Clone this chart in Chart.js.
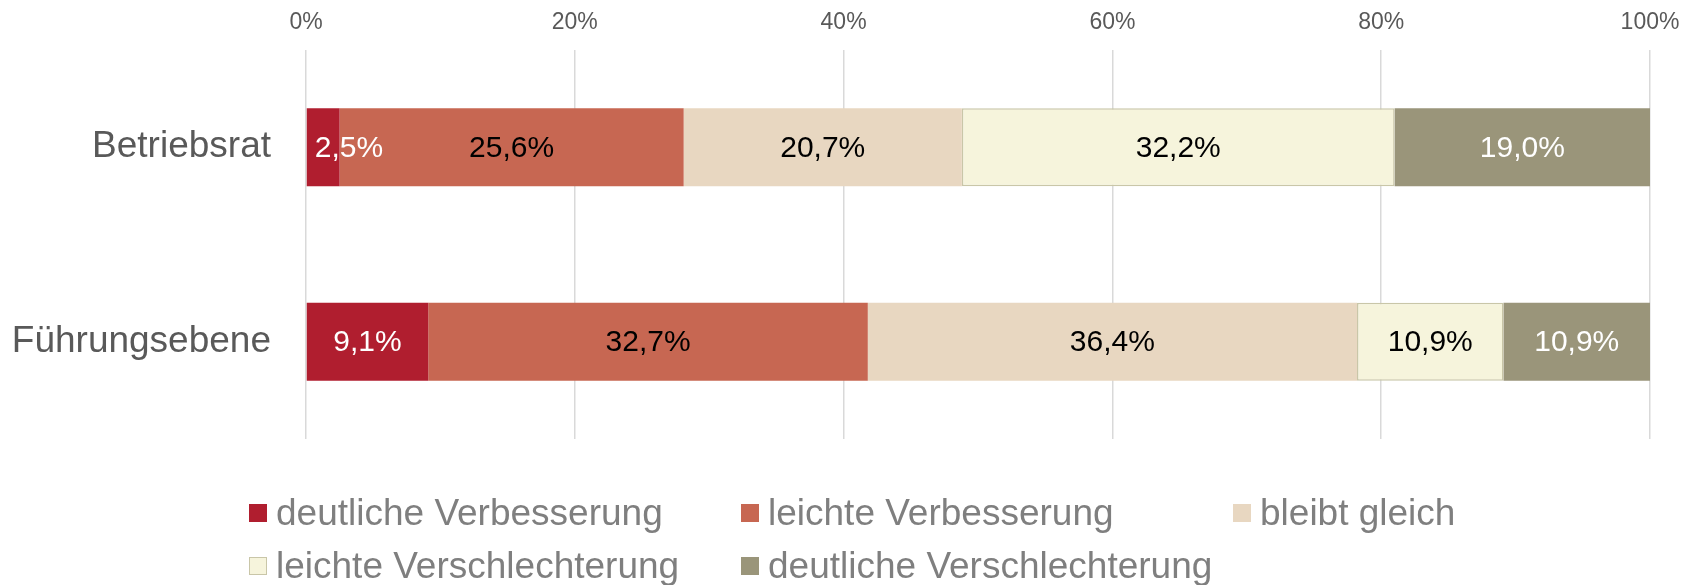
<!DOCTYPE html>
<html lang="de">
<head>
<meta charset="UTF-8">
<title>Betriebsrat / Führungsebene</title>
<script src="https://cdn.jsdelivr.net/npm/chart.js"></script>
<style>
    html, body { margin: 0; padding: 0; background: #fff; }
    #wrap {
        position: relative;
        width: 1698px;
        height: 585px;
        font-family: "Liberation Sans", Arial, sans-serif;
    }
    #chart { position: absolute; left: 0; top: 0; }
    #legend {
        position: absolute;
        left: 249px;
        top: 486px;
        display: grid;
        grid-template-columns: 492px 492px 492px;
    }
    .item {
        display: flex;
        align-items: center;
        height: 53px;
        font-size: 37px;
        line-height: 1;
        color: #7f7f7f;
        white-space: nowrap;
    }
    .box {
        width: 18px;
        height: 18px;
        margin-right: 9px;
        box-sizing: border-box;
    }
</style>
</head>
<body>
<div id="wrap">
    <canvas id="chart" width="1698" height="585"></canvas>
    <div id="legend"></div>
</div>
<script>
    // Daten
    const categories = ['Betriebsrat', 'Führungsebene'];
    const seriesNames = ['deutliche Verbesserung', 'leichte Verbesserung', 'bleibt gleich',
        'leichte Verschlechterung', 'deutliche Verschlechterung'];
    const deutlicheVerbesserung = [2.5, 9.1];
    const leichteVerbesserung = [25.6, 32.7];
    const bleibtGleich = [20.7, 36.4];
    const leichteVerschlechterung = [32.2, 10.9];
    const deutlicheVerschlechterung = [19.0, 10.9];
    const xTicks = [0, 20, 40, 60, 80, 100];

    const FONT = '"Liberation Sans", Arial, sans-serif';

    const datasets = [
        { label: seriesNames[0], data: deutlicheVerbesserung, backgroundColor: '#B01E2F', labelColor: '#ffffff' },
        { label: seriesNames[1], data: leichteVerbesserung, backgroundColor: '#C76752', labelColor: '#000000' },
        { label: seriesNames[2], data: bleibtGleich, backgroundColor: '#E8D7C1', labelColor: '#000000' },
        { label: seriesNames[3], data: leichteVerschlechterung, backgroundColor: '#F6F4DC', labelColor: '#000000',
            borderColor: '#C9C6A8', borderWidth: 1.5, borderSkipped: false },
        { label: seriesNames[4], data: deutlicheVerschlechterung, backgroundColor: '#9A957A', labelColor: '#ffffff' }
    ];

    // Prozentwerte in die Balken schreiben
    const barLabels = {
        id: 'barLabels',
        afterDatasetsDraw(chart) {
            const ctx = chart.ctx;
            ctx.save();
            ctx.font = '30px ' + FONT;
            ctx.textBaseline = 'middle';
            chart.data.datasets.forEach((ds, i) => {
                chart.getDatasetMeta(i).data.forEach((bar, j) => {
                    const txt = ds.data[j].toFixed(1).replace('.', ',') + '%';
                    const w = ctx.measureText(txt).width;
                    const left = Math.min(bar.x, bar.base);
                    const right = Math.max(bar.x, bar.base);
                    let x = (left + right) / 2;
                    ctx.textAlign = 'center';
                    if (w + 12 > right - left) {
                        ctx.textAlign = 'left';
                        x = left + 8;
                    }
                    ctx.fillStyle = ds.labelColor;
                    ctx.fillText(txt, x, bar.y + 1);
                });
            });
            ctx.restore();
        }
    };

    new Chart(document.getElementById('chart'), {
        type: 'bar',
        data: { labels: categories, datasets: datasets },
        plugins: [barLabels],
        options: {
            indexAxis: 'y',
            responsive: false,
            animation: false,
            layout: { padding: { top: 0, right: 48, bottom: 146, left: 0 } },
            datasets: { bar: { categoryPercentage: 1, barPercentage: 0.4 } },
            plugins: {
                legend: { display: false },
                tooltip: { enabled: false }
            },
            scales: {
                x: {
                    position: 'top',
                    stacked: true,
                    min: 0,
                    max: 100,
                    afterBuildTicks: s => { s.ticks = xTicks.map(v => ({ value: v })); },
                    afterFit: s => { s.height = 50; },
                    border: { display: false },
                    grid: { color: '#d9d9d9', lineWidth: 1.5, drawTicks: false },
                    ticks: {
                        padding: 14,
                        color: '#595959',
                        font: { family: FONT, size: 23 },
                        callback: v => v + '%'
                    }
                },
                y: {
                    stacked: true,
                    afterFit: s => {
                        s.width = 306;
                        s.paddingTop = 0;
                        s.paddingBottom = 0;
                    },
                    border: { display: false },
                    grid: { display: false, drawTicks: false },
                    ticks: {
                        padding: 35,
                        color: '#595959',
                        font: { family: FONT, size: 37 }
                    }
                }
            }
        }
    });

    // Legende
    const legend = document.getElementById('legend');
    datasets.forEach(ds => {
        const item = document.createElement('div');
        item.className = 'item';
        const box = document.createElement('span');
        box.className = 'box';
        box.style.background = ds.backgroundColor;
        if (ds.borderColor) box.style.border = '1.5px solid ' + ds.borderColor;
        const txt = document.createElement('span');
        txt.textContent = ds.label;
        item.appendChild(box);
        item.appendChild(txt);
        legend.appendChild(item);
    });
</script>
</body>
</html>
